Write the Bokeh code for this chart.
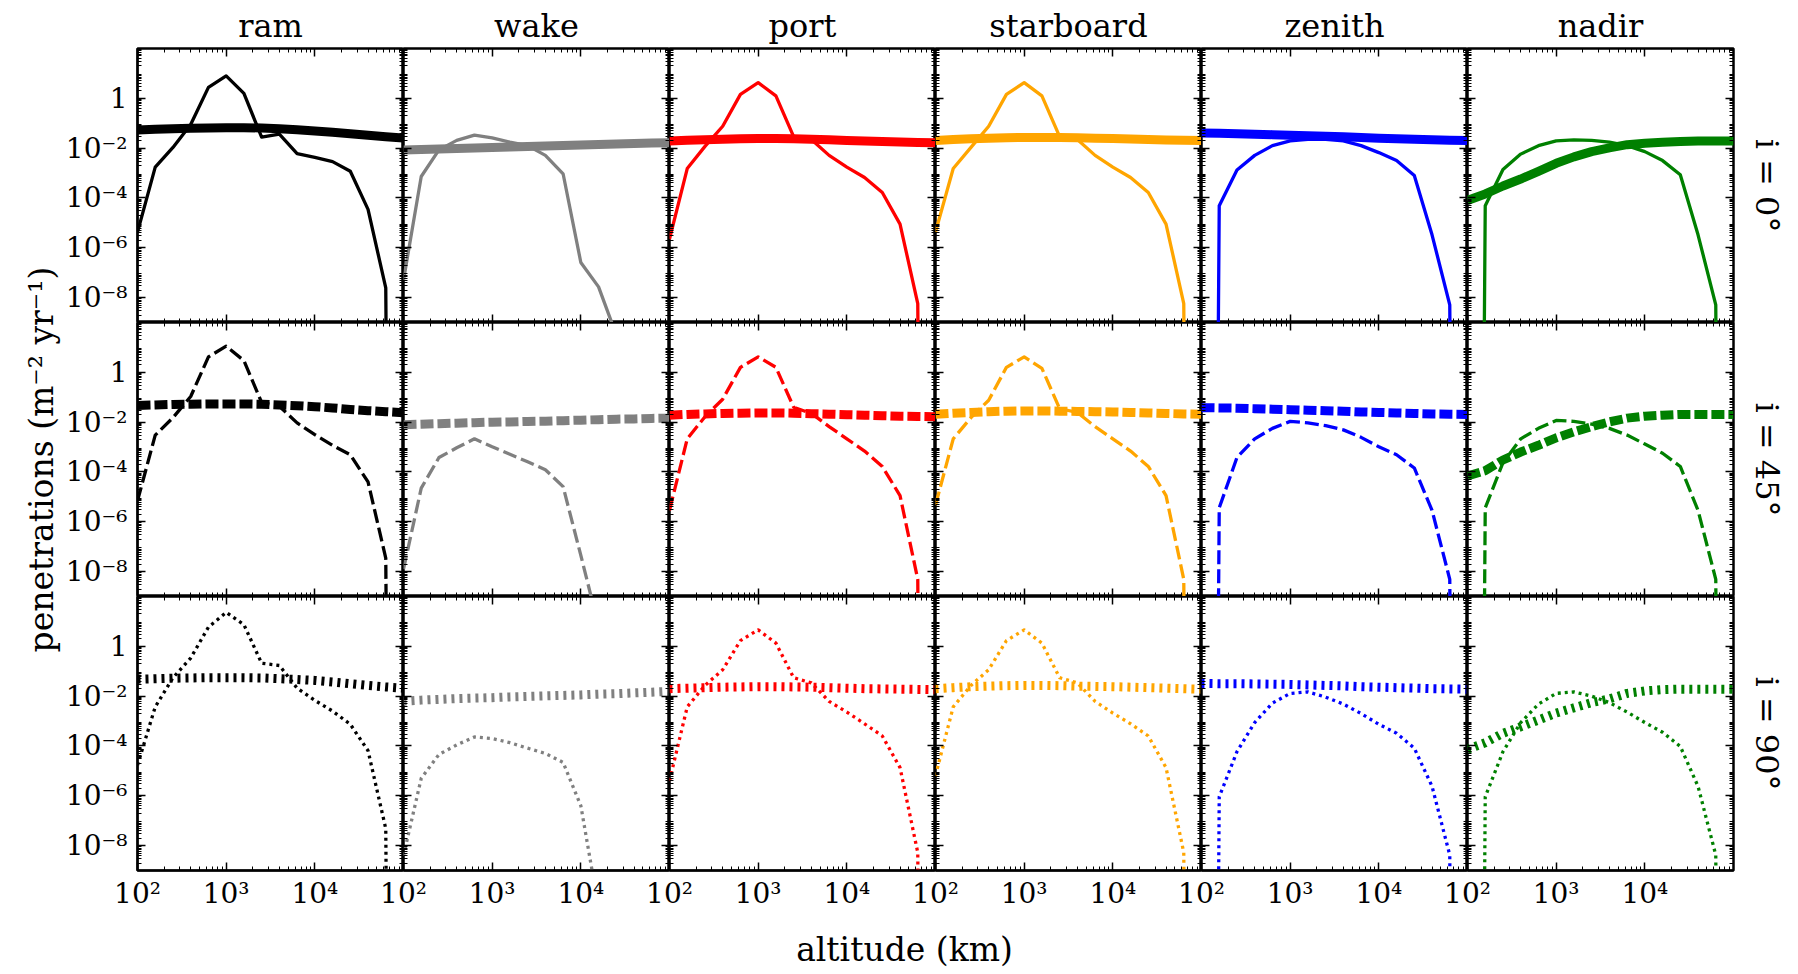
from bokeh.plotting import figure
from bokeh.layouts import row, column
from bokeh.models import LogAxis, FixedTicker, CustomJSTickFormatter, Title, ColumnDataSource
from bokeh.embed import file_html
from bokeh.resources import INLINE

# ---------------- data ----------------
ALTITUDE_KM = [100, 158.5, 251.2, 398.1, 631.0, 1000, 1584.9, 2511.9, 3981.1, 6309.6,
               10000, 15848.9, 25118.9, 39810.7, 63095.7, 100000]
FACES = ["ram", "wake", "port", "starboard", "zenith", "nadir"]
INCLINATIONS = ["i = 0°", "i = 45°", "i = 90°"]
X_TICKS = [1e2, 1e3, 1e4]
Y_TICKS = [1e-8, 1e-6, 1e-4, 1e-2, 1]

# log10 of penetrations (m^-2 yr^-1); None = no penetrations
# rows: i = 0°, 45°, 90°
ram_thin = [
    [-5.37, -2.76, -1.97, -1.05, 0.44, 0.90, 0.20, -1.56, -1.44, -2.22, -2.37, -2.54, -2.93, -4.46, -7.61, None],
    [-5.16, -2.52, -1.82, -0.97, 0.62, 1.05, 0.47, -1.21, -1.36, -2.03, -2.50, -2.93, -3.31, -4.40, -7.46, None],
    [-4.77, -2.43, -1.26, -0.47, 0.77, 1.36, 0.87, -0.68, -0.77, -1.68, -2.17, -2.60, -3.13, -4.19, -7.32, None],
]
ram_thick = [
    [-1.27, -1.24, -1.22, -1.20, -1.19, -1.18, -1.18, -1.19, -1.22, -1.26, -1.31, -1.36, -1.42, -1.48, -1.54, -1.59],
    [-1.33, -1.31, -1.29, -1.28, -1.27, -1.27, -1.27, -1.28, -1.31, -1.34, -1.38, -1.43, -1.49, -1.54, -1.58, -1.62],
    [-1.32, -1.30, -1.28, -1.27, -1.26, -1.26, -1.26, -1.27, -1.30, -1.33, -1.37, -1.43, -1.50, -1.57, -1.63, -1.68],
]
wake_thin = [
    [-7.30, -3.14, -2.07, -1.69, -1.48, -1.59, -1.76, -1.90, -2.29, -3.03, -6.59, -7.57, -9.50, None, None, None],
    [-7.90, -4.65, -3.42, -3.03, -2.67, -2.99, -3.29, -3.59, -3.91, -4.59, -7.35, -10.2, None, None, None, None],
    [-8.40, -5.30, -4.34, -3.96, -3.64, -3.70, -3.87, -4.09, -4.30, -4.66, -6.40, -10.5, None, None, None, None],
]
wake_thick = [
    [-2.07, -2.05, -2.03, -2.01, -1.99, -1.97, -1.95, -1.93, -1.91, -1.89, -1.87, -1.85, -1.83, -1.81, -1.79, -1.78],
    [-2.10, -2.08, -2.06, -2.04, -2.02, -2.00, -1.99, -1.97, -1.96, -1.94, -1.92, -1.90, -1.88, -1.87, -1.85, -1.84],
    [-2.20, -2.16, -2.13, -2.10, -2.08, -2.06, -2.03, -2.01, -1.99, -1.97, -1.95, -1.92, -1.90, -1.87, -1.84, -1.81],
]
port_thin = [
    [-5.65, -2.82, -1.93, -1.12, 0.16, 0.63, 0.10, -1.54, -1.65, -2.29, -2.76, -3.18, -3.78, -5.05, -8.24, None],
    [-5.54, -2.67, -1.78, -1.08, 0.20, 0.62, 0.20, -1.40, -1.65, -2.18, -2.67, -3.16, -3.78, -4.95, -8.31, None],
    [-5.40, -2.43, -1.57, -0.94, 0.23, 0.66, 0.13, -1.26, -1.47, -2.21, -2.64, -3.11, -3.60, -4.87, -8.28, None],
]
port_thick = [
    [-1.71, -1.68, -1.66, -1.64, -1.62, -1.61, -1.61, -1.62, -1.64, -1.66, -1.69, -1.71, -1.73, -1.75, -1.77, -1.78],
    [-1.72, -1.69, -1.67, -1.65, -1.64, -1.63, -1.63, -1.64, -1.66, -1.68, -1.70, -1.72, -1.74, -1.76, -1.77, -1.78],
    [-1.70, -1.68, -1.66, -1.64, -1.63, -1.62, -1.62, -1.63, -1.64, -1.66, -1.68, -1.70, -1.71, -1.72, -1.73, -1.74],
]
starboard_thin = [
    [-5.37, -2.82, -1.97, -1.12, 0.16, 0.63, 0.10, -1.54, -1.65, -2.29, -2.76, -3.18, -3.78, -5.05, -8.24, None],
    [-5.33, -2.67, -1.82, -1.12, 0.20, 0.62, 0.16, -1.46, -1.61, -2.18, -2.67, -3.16, -3.78, -4.95, -8.31, None],
    [-5.19, -2.43, -1.57, -0.94, 0.23, 0.66, 0.13, -1.26, -1.47, -2.21, -2.68, -3.11, -3.60, -4.87, -8.28, None],
]
starboard_thick = [
    [-1.69, -1.65, -1.62, -1.60, -1.58, -1.57, -1.57, -1.57, -1.58, -1.60, -1.61, -1.63, -1.65, -1.67, -1.68, -1.69],
    [-1.68, -1.64, -1.61, -1.58, -1.56, -1.55, -1.55, -1.56, -1.57, -1.58, -1.59, -1.61, -1.63, -1.65, -1.67, -1.68],
    [-1.70, -1.66, -1.62, -1.60, -1.58, -1.57, -1.57, -1.58, -1.60, -1.61, -1.62, -1.64, -1.66, -1.68, -1.70, -1.72],
]
zenith_thin = [
    [None, -4.31, -2.88, -2.29, -1.90, -1.71, -1.65, -1.65, -1.71, -1.90, -2.18, -2.50, -3.10, -5.48, -8.29, None],
    [None, -5.44, -3.42, -2.67, -2.25, -1.97, -2.03, -2.14, -2.31, -2.61, -2.99, -3.31, -3.84, -5.54, -8.31, None],
    [None, -6.04, -4.23, -3.06, -2.28, -1.89, -1.83, -2.04, -2.32, -2.70, -3.13, -3.49, -4.09, -5.62, -8.38, None],
]
zenith_thick = [
    [-1.39, -1.40, -1.42, -1.44, -1.46, -1.48, -1.50, -1.52, -1.54, -1.57, -1.60, -1.62, -1.64, -1.66, -1.68, -1.69],
    [-1.42, -1.43, -1.44, -1.46, -1.48, -1.50, -1.52, -1.54, -1.56, -1.59, -1.61, -1.63, -1.65, -1.67, -1.68, -1.69],
    [-1.49, -1.50, -1.50, -1.51, -1.52, -1.53, -1.55, -1.57, -1.59, -1.62, -1.64, -1.66, -1.68, -1.70, -1.71, -1.72],
]
nadir_thin = [
    [None, -4.31, -2.86, -2.24, -1.90, -1.71, -1.67, -1.69, -1.76, -1.90, -2.14, -2.50, -3.07, -5.48, -8.29, None],
    [None, -5.44, -3.63, -2.67, -2.25, -1.93, -1.97, -2.08, -2.25, -2.52, -2.88, -3.25, -3.78, -5.54, -8.31, None],
    [None, -6.04, -4.23, -3.06, -2.32, -1.89, -1.83, -2.00, -2.26, -2.64, -3.06, -3.45, -4.02, -5.62, -8.38, None],
]
nadir_thick = [
    [-4.10, -3.84, -3.52, -3.24, -2.93, -2.61, -2.35, -2.14, -1.99, -1.86, -1.80, -1.76, -1.73, -1.71, -1.71, -1.71],
    [-4.16, -3.95, -3.52, -3.20, -2.93, -2.63, -2.39, -2.18, -1.99, -1.84, -1.76, -1.72, -1.69, -1.69, -1.69, -1.69],
    [-4.13, -3.87, -3.49, -3.23, -2.96, -2.68, -2.47, -2.26, -2.11, -1.89, -1.79, -1.74, -1.72, -1.72, -1.72, -1.72],
]

THIN = {"ram": ram_thin, "wake": wake_thin, "port": port_thin,
        "starboard": starboard_thin, "zenith": zenith_thin, "nadir": nadir_thin}
THICK = {"ram": ram_thick, "wake": wake_thick, "port": port_thick,
         "starboard": starboard_thick, "zenith": zenith_thick, "nadir": nadir_thick}

# ---------------- style ----------------
COLORS = {"ram": "#000000", "wake": "#808080", "port": "#ff0000",
          "starboard": "#ffa500", "zenith": "#0000ff", "nadir": "#008000"}
THIN_DASH = ["solid", "14 5", "3 4"]
THICK_DASH = ["solid", "13 4", "3 5"]
THIN_W = 3.3
THICK_W = 9
FONT = "DejaVu Serif"
FW, FH = 266, 274
COL0_LEFT = 72
TOP_B = 48
BOT_B = 40
RIGHT_B = 60
SHIFT = 30
FLOOR = 1e-100  # stands in for zero on the log axis (clipped, like matplotlib)

x_minor = [m * 10.0 ** d for d in (2, 3, 4) for m in range(2, 10)]
y_minor = [m * 10.0 ** d for d in range(-9, 2) for m in range(2, 10)]

POW_FMT = CustomJSTickFormatter(code="""
const e = Math.round(Math.log10(tick));
if (e === 0) { return "1"; }
const sup = {"-": "\\u207b", "0": "\\u2070", "1": "\\u00b9", "2": "\\u00b2", "3": "\\u00b3",
             "4": "\\u2074", "5": "\\u2075", "6": "\\u2076", "7": "\\u2077", "8": "\\u2078", "9": "\\u2079"};
return "10" + String(e).split("").map(c => sup[c]).join("");
""")
BLANK_FMT = CustomJSTickFormatter(code="return '';")


def to_values(logs):
    return [FLOOR if v is None else 10.0 ** v for v in logs]


def no_grid(p):
    for g in p.grid:
        g.visible = False


def style_axis(ax, labeled):
    ax.major_tick_in = 8
    ax.major_tick_out = 0
    ax.minor_tick_in = 4
    ax.minor_tick_out = 0
    ax.major_tick_line_width = 1.5
    ax.minor_tick_line_width = 1
    ax.major_tick_line_color = "black"
    ax.minor_tick_line_color = "black"
    ax.major_label_text_font = FONT
    ax.major_label_text_font_size = "28px" if labeled else "0px"
    ax.major_label_text_color = "black"
    ax.axis_line_color = "black" if labeled else None
    ax.axis_line_width = 2


def panel(r, c):
    face = FACES[c]
    top, bottom, left, right = r == 0, r == 2, c == 0, c == 5
    shift = bottom and c > 0
    p = figure(x_axis_type="log", y_axis_type="log",
               x_range=(1e2, 1e5), y_range=(1e-9, 1e2),
               frame_width=FW, frame_height=FH,
               x_axis_location=None, y_axis_location=None,
               toolbar_location=None, output_backend="svg", title=None,
               min_border_left=COL0_LEFT if left else (SHIFT if shift else 0),
               min_border_right=RIGHT_B if right else 0,
               min_border_top=TOP_B if top else 0,
               min_border_bottom=BOT_B if bottom else 0)
    no_grid(p)
    p.background_fill_color = "white"
    p.border_fill_color = None if shift else "white"
    p.outline_line_color = "black"
    p.outline_line_width = 2.5
    if shift:
        p.margin = (0, 0, 0, -SHIFT)

    yt = FixedTicker(ticks=Y_TICKS, minor_ticks=y_minor)
    xt = FixedTicker(ticks=X_TICKS, minor_ticks=x_minor)

    la = LogAxis(ticker=yt, formatter=POW_FMT if left else BLANK_FMT)
    style_axis(la, left)
    la.major_label_standoff = 10
    if not left:
        la.fixed_location = 1e2
    p.add_layout(la, "left")

    ra = LogAxis(ticker=yt, formatter=BLANK_FMT)
    style_axis(ra, False)
    if right:
        ra.axis_label = INCLINATIONS[r]
        ra.axis_label_text_font = FONT
        ra.axis_label_text_font_size = "32px"
        ra.axis_label_text_font_style = "normal"
        ra.axis_label_text_color = "black"
        ra.major_label_standoff = 0
        ra.axis_label_standoff = 14
    else:
        ra.fixed_location = 1e5
    p.add_layout(ra, "right")

    ta = LogAxis(ticker=xt, formatter=BLANK_FMT)
    style_axis(ta, False)
    ta.fixed_location = 1e2
    p.add_layout(ta, "above")

    ba = LogAxis(ticker=xt, formatter=POW_FMT if bottom else BLANK_FMT)
    style_axis(ba, bottom)
    ba.major_label_standoff = 6
    if not bottom:
        ba.fixed_location = 1e-9
    p.add_layout(ba, "below")

    if top:
        p.add_layout(Title(text=face, align="center", text_font=FONT, text_font_size="32px",
                           text_font_style="normal", text_color="black", standoff=8), "above")

    color = COLORS[face]
    src_thin = ColumnDataSource(dict(x=ALTITUDE_KM, y=to_values(THIN[face][r])))
    src_thick = ColumnDataSource(dict(x=ALTITUDE_KM, y=to_values(THICK[face][r])))
    p.line("x", "y", source=src_thin, line_color=color, line_width=THIN_W,
           line_dash=THIN_DASH[r], line_join="round")
    p.line("x", "y", source=src_thick, line_color=color, line_width=THICK_W,
           line_dash=THICK_DASH[r], line_join="round")
    return p


rows = [row(*[panel(r, c) for c in range(6)], spacing=0) for r in range(3)]
grid = column(*rows, spacing=0)

ylab = figure(frame_width=4, frame_height=3 * FH, min_border_left=58, min_border_right=0,
              min_border_top=TOP_B, min_border_bottom=BOT_B, toolbar_location=None,
              output_backend="svg", title=None, x_axis_location=None, y_axis_location=None)
no_grid(ylab)
ylab.outline_line_color = None
ylab.add_layout(Title(text="penetrations (m⁻² yr⁻¹)", align="center", text_font=FONT,
                      text_font_size="33px", text_font_style="normal", text_color="black",
                      standoff=-4), "left")

xlab = figure(frame_width=1600, frame_height=1, min_border_left=104, min_border_right=0,
              min_border_top=56, min_border_bottom=0, toolbar_location=None,
              output_backend="svg", title=None, x_axis_location=None, y_axis_location=None)
no_grid(xlab)
xlab.outline_line_color = None
xlab.add_layout(Title(text="altitude (km)", align="center", text_font=FONT,
                      text_font_size="33px", text_font_style="normal", text_color="black",
                      standoff=0), "above")

layout = column(row(ylab, grid, spacing=0), xlab, spacing=0)

open("out.html", "w").write(file_html(layout, INLINE))
